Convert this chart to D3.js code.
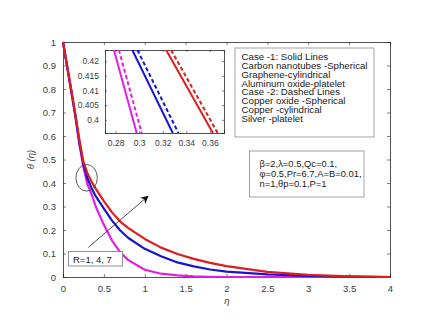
<!DOCTYPE html>
<html>
<head>
<meta charset="utf-8">
<script src="https://cdn.jsdelivr.net/npm/d3@7"></script>
<style>
  html, body { margin: 0; padding: 0; background: #fff; }
  svg { display: block; font-family: "Liberation Sans", Arial, sans-serif; }
</style>
</head>
<body>
<div id="chart"></div>
<script>
// eta grid shared by the three curves
const ETA = [0, 0.05, 0.1, 0.15, 0.2, 0.25, 0.3, 0.35, 0.4, 0.5, 0.6, 0.7, 0.8,
             1.0, 1.2, 1.4, 1.6, 1.8, 2.0, 2.5, 3.0, 3.5, 4.0];

// theta(eta) for R = 1, 4, 7
const THETA_R1 = [1, 0.895, 0.79, 0.685, 0.565, 0.467, 0.393, 0.352, 0.30, 0.222, 0.155,
                  0.105, 0.072, 0.031, 0.014, 0.007, 0.003, 0.001, 0, 0, 0, 0, 0];
const THETA_R4 = [1, 0.897, 0.795, 0.69, 0.575, 0.478, 0.419, 0.378, 0.344, 0.291, 0.24,
                  0.198, 0.166, 0.12, 0.088, 0.062, 0.045, 0.032, 0.023, 0.011, 0.005, 0.002, 0];
const THETA_R7 = [1, 0.9, 0.8, 0.695, 0.585, 0.49, 0.44, 0.405, 0.376, 0.323, 0.275,
                  0.236, 0.208, 0.162, 0.125, 0.098, 0.077, 0.06, 0.046, 0.022, 0.009, 0.003, 0];

// zoomed segments shown in the inset: [eta at top, eta at bottom]
const INSET_THETA = [0.4238, 0.3955];
const INSET_R1_SOLID = [0.2786, 0.2979];
const INSET_R1_DASH  = [0.2828, 0.3021];
const INSET_R4_SOLID = [0.2942, 0.3285];
const INSET_R4_DASH  = [0.2985, 0.3333];
const INSET_R7_SOLID = [0.3229, 0.3626];
const INSET_R7_DASH  = [0.3271, 0.3666];

const X_TICKS = [0, 0.5, 1, 1.5, 2, 2.5, 3, 3.5, 4];
const Y_TICKS = [0, 0.1, 0.2, 0.3, 0.4, 0.5, 0.6, 0.7, 0.8, 0.9, 1];
const INSET_X_TICKS = [0.28, 0.3, 0.32, 0.34, 0.36];
const INSET_Y_TICKS = [0.4, 0.405, 0.41, 0.415, 0.42];

const LEGEND_LINES = [
  'Case -1: Solid Lines',
  'Carbon nanotubes -Spherical',
  'Graphene-cylindrical',
  'Aluminum oxide-platelet',
  'Case -2: Dashed Lines',
  'Copper oxide -Spherical',
  'Copper -cylindrical',
  'Silver -platelet'
];
const PARAM_LINES = [
  'β=2,λ=0.5,Qc=0.1,',
  'φ=0.5,Pr=6.7,A=B=0.01,',
  'n=1,θp=0.1,P=1'
];

const COL = { r1: '#e31ee3', r4: '#1515d2', r7: '#dc1e1e' };
const AXIS = '#262626';
const TEXT = '#3a3a3a';

const width = 440, height = 321;
const M = { left: 63, top: 42, right: 390, bottom: 277 };

const svg = d3.select('#chart').append('svg')
  .attr('width', width).attr('height', height);

const x = d3.scaleLinear().domain([0, 4]).range([M.left, M.right]);
const y = d3.scaleLinear().domain([0, 1]).range([M.bottom, M.top]);

// MATLAB-style box with inner ticks on all four sides
function boxAxes(g, xs, ys, xt, yt, fmtX, fmtY, tick, fs) {
  const [x0, x1] = xs.range(), [y0, y1] = ys.range();
  g.append('g').attr('transform', `translate(0,${y0})`)
    .call(d3.axisBottom(xs).tickValues(xt).tickSize(-tick).tickPadding(tick + 5).tickFormat(fmtX));
  g.append('g').attr('transform', `translate(0,${y1})`)
    .call(d3.axisTop(xs).tickValues(xt).tickSize(-tick).tickFormat(''));
  g.append('g').attr('transform', `translate(${x0},0)`)
    .call(d3.axisLeft(ys).tickValues(yt).tickSize(-tick).tickPadding(tick + 4).tickFormat(fmtY));
  g.append('g').attr('transform', `translate(${x1},0)`)
    .call(d3.axisRight(ys).tickValues(yt).tickSize(-tick).tickFormat(''));
  g.selectAll('.domain').attr('stroke', AXIS).attr('stroke-width', 0.8);
  g.selectAll('.tick line').attr('stroke', AXIS).attr('stroke-width', 0.6);
  g.selectAll('.tick text').attr('fill', TEXT).attr('font-size', fs)
    .attr('font-family', '"Liberation Sans", Arial, sans-serif');
}

const mainAx = svg.append('g');
boxAxes(mainAx, x, y, X_TICKS, Y_TICKS, d3.format(''), d3.format(''), 3, 9.5);

// curves
const line = d3.line().x(d => x(d[0])).y(d => y(d[1]));
[[THETA_R1, COL.r1], [THETA_R4, COL.r4], [THETA_R7, COL.r7]].forEach(([vals, c]) => {
  svg.append('path')
    .datum(ETA.map((e, i) => [e, vals[i]]))
    .attr('d', line)
    .attr('fill', 'none')
    .attr('stroke', c)
    .attr('stroke-width', 2.2)
    .attr('stroke-linejoin', 'round');
});

// axis labels
svg.append('text')
  .attr('x', (M.left + M.right) / 2 + 0.5).attr('y', 304)
  .attr('text-anchor', 'middle').attr('font-size', 9.5).attr('font-style', 'italic')
  .attr('fill', TEXT).text('η');
svg.append('text')
  .attr('transform', `translate(34,${(M.top + M.bottom) / 2}) rotate(-90)`)
  .attr('text-anchor', 'middle').attr('font-size', 9.5).attr('font-style', 'italic')
  .attr('fill', TEXT).text('θ (η)');

// inset
const xi = d3.scaleLinear().domain([0.271, 0.372]).range([105, 224]);
const yi = d3.scaleLinear().domain([0.3955, 0.4238]).range([133, 50]);
svg.append('rect')
  .attr('x', 105).attr('y', 50).attr('width', 119).attr('height', 83)
  .attr('fill', '#fff');
const insetAx = svg.append('g');
boxAxes(insetAx, xi, yi, INSET_X_TICKS, INSET_Y_TICKS,
  d => d3.format('')(+d.toFixed(3)), d => d3.format('')(+d.toFixed(3)), 2, 8.5);

svg.append('clipPath').attr('id', 'insetClip')
  .append('rect').attr('x', 105).attr('y', 50).attr('width', 119).attr('height', 83);
const insetLines = svg.append('g').attr('clip-path', 'url(#insetClip)');
const iline = d3.line().x(d => xi(d[0])).y(d => yi(d[1]));
[
  [INSET_R1_SOLID, COL.r1, null], [INSET_R1_DASH, COL.r1, '4,2.5'],
  [INSET_R4_SOLID, COL.r4, null], [INSET_R4_DASH, COL.r4, '4,2.5'],
  [INSET_R7_SOLID, COL.r7, null], [INSET_R7_DASH, COL.r7, '4,2.5']
].forEach(([seg, c, dash]) => {
  insetLines.append('path')
    .datum(seg.map((e, i) => [e, INSET_THETA[i]]))
    .attr('d', iline)
    .attr('fill', 'none')
    .attr('stroke', c)
    .attr('stroke-width', 2)
    .attr('stroke-dasharray', dash);
});

// legend box
const lg = svg.append('g');
lg.append('rect').attr('x', 235).attr('y', 48).attr('width', 139).attr('height', 89)
  .attr('fill', '#fff').attr('stroke', '#8c8c8c').attr('stroke-width', 0.8);
lg.selectAll('text').data(LEGEND_LINES).enter().append('text')
  .attr('x', 241.5).attr('y', (d, i) => 59.8 + i * 8.9)
  .attr('font-size', 9.7).attr('fill', '#1a1a1a').text(d => d);

// parameters box
const pg = svg.append('g');
pg.append('rect').attr('x', 249.5).attr('y', 151).attr('width', 114.5).attr('height', 46)
  .attr('fill', '#fff').attr('stroke', '#8c8c8c').attr('stroke-width', 0.8);
pg.selectAll('text').data(PARAM_LINES).enter().append('text')
  .attr('x', 259.5).attr('y', (d, i) => 167.3 + i * 10)
  .attr('font-size', 9.4).attr('fill', '#1a1a1a').text(d => d);

// ellipse around the crossing region
svg.append('ellipse')
  .attr('cx', x(0.289)).attr('cy', y(0.422))
  .attr('rx', 10.7).attr('ry', 13.3)
  .attr('fill', 'none').attr('stroke', '#333').attr('stroke-width', 0.8);

// arrow R increasing
svg.append('defs').append('marker')
  .attr('id', 'arrowhead').attr('viewBox', '0 0 10 10')
  .attr('refX', 9).attr('refY', 5)
  .attr('markerWidth', 8).attr('markerHeight', 8)
  .attr('markerUnits', 'userSpaceOnUse')
  .attr('orient', 'auto')
  .append('path').attr('d', 'M0,0 L10,5 L0,10 L3,5 Z').attr('fill', '#111');
svg.append('line')
  .attr('x1', x(0.31)).attr('y1', y(0.126))
  .attr('x2', x(1.04)).attr('y2', y(0.344))
  .attr('stroke', '#222').attr('stroke-width', 0.8)
  .attr('marker-end', 'url(#arrowhead)');

// R label
svg.append('rect').attr('x', 68.5).attr('y', 251.5).attr('width', 54).attr('height', 14.5)
  .attr('fill', '#fff').attr('stroke', '#777').attr('stroke-width', 0.8);
svg.append('text').attr('x', 73).attr('y', 262.5)
  .attr('font-size', 9.5).attr('fill', '#1a1a1a').text('R=1, 4, 7');
</script>
</body>
</html>
